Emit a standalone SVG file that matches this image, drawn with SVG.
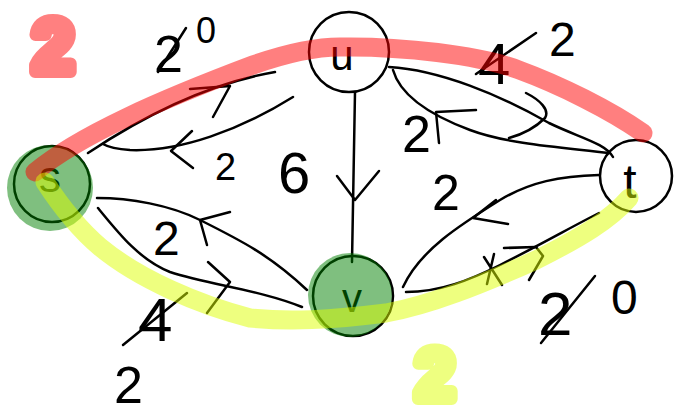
<svg xmlns="http://www.w3.org/2000/svg" width="676" height="415" viewBox="0 0 676 415">
<style>
.edge{fill:none;stroke:#000;stroke-width:2.5;stroke-linecap:round;stroke-linejoin:round}
.ring{fill:none;stroke:#000;stroke-width:2.5}
.blob{fill:#008000;fill-opacity:0.5}
.lbl{font-family:"Liberation Sans",Arial,sans-serif;fill:#000}
.hl{fill:none;stroke-linecap:round;stroke-linejoin:round;stroke-width:19}
.big{font-family:"Liberation Sans",Arial,sans-serif;font-weight:bold;stroke-width:12;stroke-linejoin:round}
</style>
<rect width="676" height="415" fill="#fff"/>
<g id="connectors">
  <path class="edge" d="M88,153 C130,125 200,85 275,72"/>
  <path class="edge" d="M190,89 L230,86 L213,117"/>
  <path class="edge" d="M293,97 C240,130 180,152 130,150 C115,149 108,147 103,144"/>
  <path class="edge" d="M192,131 L171,151 L193,168"/>
  <path class="edge" d="M355,92 L352,262"/>
  <path class="edge" d="M337,176 L355,200 L379,171"/>
  <path class="edge" d="M389,67 C440,70 500,95 549,123 C580,138 605,143 613,157"/>
  <path class="edge" d="M526,93 C540,100 550,110 545,118 C535,128 520,135 509,138"/>
  <path class="edge" d="M609,153 C570,148 510,145 470,130 C430,115 400,95 393,70"/>
  <path class="edge" d="M439,143 L436,112 L476,110"/>
  <path class="edge" d="M599,175 C560,176 530,182 500,200 C460,225 420,250 403,287"/>
  <path class="edge" d="M496,200 L473,218 L508,224"/>
  <path class="edge" d="M406,292 C440,292 470,280 500,265 C540,245 575,225 599,213"/>
  <path class="edge" d="M504,248 L536,247 L543,256 L529,280"/>
  <path class="edge" d="M484,257 L502,285 M494,254 L487,284"/>
  <path class="edge" d="M97,198 C130,198 170,205 200,220 C240,240 270,255 307,290"/>
  <path class="edge" d="M230,212 L200,220 L207,245"/>
  <path class="edge" d="M98,208 C120,235 140,260 170,272 C210,285 260,290 302,307"/>
  <path class="edge" d="M208,262 L230,282 L207,313"/>
</g>
<g id="labels">
  <text class="lbl" x="154" y="72" font-size="52">2</text>
  <path class="edge" d="M158,72 L186,28"/>
  <text class="lbl" x="196" y="43" font-size="36">0</text>
  <text class="lbl" x="215" y="180" font-size="38">2</text>
  <text class="lbl" x="278" y="193" font-size="58">6</text>
  <text class="lbl" x="478" y="84" font-size="58">4</text>
  <path class="edge" d="M476,74 L536,33"/>
  <text class="lbl" x="549" y="56" font-size="48">2</text>
  <text class="lbl" x="402" y="152" font-size="52">2</text>
  <text class="lbl" x="432" y="210" font-size="50">2</text>
  <text class="lbl" x="153" y="255" font-size="48">2</text>
  <text class="lbl" x="138" y="341" font-size="62">4</text>
  <path class="edge" d="M123,345 L187,293"/>
  <text class="lbl" x="114" y="403" font-size="52">2</text>
  <text class="lbl" x="538" y="335" font-size="62">2</text>
  <path class="edge" d="M541,343 L595,276"/>
  <text class="lbl" x="611" y="314" font-size="48">0</text>
</g>
<g id="node-s">
  <circle class="ring" cx="52" cy="184" r="38"/>
  <text class="lbl" x="50" y="192" font-size="44" text-anchor="middle">s</text>
  <circle class="blob" cx="50" cy="188" r="43"/>
</g>
<g id="node-u">
  <circle class="ring" cx="349" cy="52" r="40"/>
  <text class="lbl" x="342" y="70" font-size="42" text-anchor="middle">u</text>
</g>
<g id="node-t">
  <circle class="ring" cx="636" cy="176" r="36"/>
  <text class="lbl" x="630" y="198" font-size="48" text-anchor="middle">t</text>
</g>
<g id="node-v">
  <circle class="ring" cx="353" cy="296" r="40"/>
  <text class="lbl" x="352" y="312" font-size="40" text-anchor="middle">v</text>
  <circle class="blob" cx="350" cy="295" r="42"/>
</g>
<g id="highlights">
  <path class="hl" stroke="#ff0000" stroke-opacity="0.5" d="M35,172 C80,135 160,100 253,65 C290,52 320,47 340,47 C400,46 480,55 519,70 C560,85 610,110 643,133"/>
  <path class="hl" stroke="#ddff00" stroke-opacity="0.5" d="M45,182 C60,205 80,230 100,247 C140,280 200,305 250,318 C290,322 330,320 386,313 C430,305 480,285 536,260 C580,238 610,220 629,198"/>
  <text class="big" x="53" y="72" font-size="74" text-anchor="middle" fill="#ff8080" stroke="#ff8080">2</text>
  <text class="big" x="435" y="399" font-size="70" text-anchor="middle" fill="#eeff80" stroke="#eeff80">2</text>
</g>
</svg>
